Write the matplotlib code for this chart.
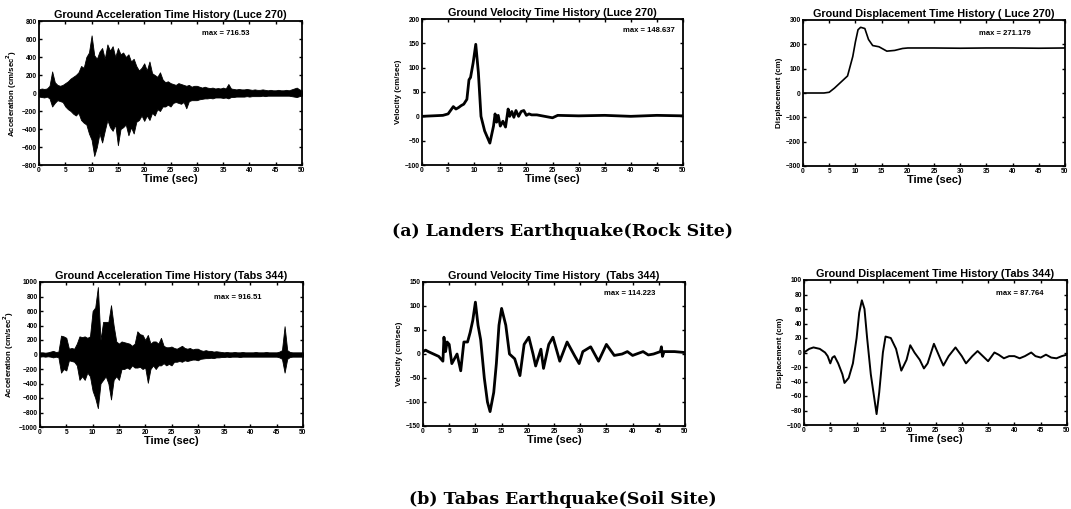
"""
Ground motion time histories: Landers (rock site) and Tabas (soil site).
"""

import numpy as np
import matplotlib
matplotlib.use('Agg')
import matplotlib.pyplot as plt

plt.rcParams.update({
    'font.family': 'Liberation Sans',
    'font.weight': 'bold',
    'axes.linewidth': 1.3,
    'xtick.direction': 'in',
    'ytick.direction': 'in',
    'xtick.top': True,
    'ytick.right': True,
    'xtick.major.size': 2.5,
    'ytick.major.size': 2.5,
    'xtick.major.width': 1.0,
    'ytick.major.width': 1.0,
    'xtick.labelsize': 4.8,
    'ytick.labelsize': 4.8,
    'xtick.major.pad': 1.5,
    'ytick.major.pad': 1.5,
})

# ── Data ────────────────────────────────────────────────────────────────────
# acceleration envelopes, sampled every 0.5 s from 0 to 50 s
acc_t = np.arange(0, 50.01, 0.5)

landers_acc_up = [40, 50, 45, 50, 80, 240, 120, 90, 80, 90,
                  110, 130, 160, 180, 200, 230, 300, 280, 400, 450,
                  640, 420, 380, 460, 500, 380, 540, 470, 520, 400,
                  500, 430, 450, 400, 430, 350, 380, 300, 250, 280,
                  330, 250, 350, 220, 200, 180, 230, 150, 120, 130,
                  110, 100, 90, 110, 100, 90, 80, 90, 70, 80,
                  80, 70, 60, 70, 60, 55, 60, 50, 55, 50,
                  60, 50, 100, 50, 45, 40, 45, 40, 40, 45,
                  40, 35, 40, 35, 35, 40, 35, 30, 35, 30,
                  30, 35, 30, 30, 35, 30, 40, 50, 60, 40, 30]
landers_acc_lo = [-40, -45, -50, -40, -60, -150, -110, -80, -90, -100,
                  -150, -180, -200, -230, -250, -220, -300, -330, -350, -450,
                  -520, -700, -600, -450, -550, -420, -300, -380, -420, -350,
                  -580, -400, -380, -350, -470, -380, -450, -320, -300, -250,
                  -310, -250, -300, -220, -250, -180, -200, -150, -150, -130,
                  -150, -110, -100, -110, -120, -100, -170, -90, -80, -80,
                  -80, -70, -65, -60, -60, -55, -60, -50, -50, -50,
                  -55, -50, -60, -45, -45, -40, -40, -40, -40, -35,
                  -40, -35, -35, -35, -35, -30, -35, -30, -30, -30,
                  -30, -30, -30, -30, -30, -30, -35, -40, -45, -35, -30]

tabas_acc_up = [30, 30, 25, 30, 40, 50, 35, 40, 260, 250,
                230, 80, 90, 80, 150, 250, 240, 250, 230, 250,
                600, 650, 930, 200, 450, 450, 450, 680, 400, 180,
                150, 180, 170, 160, 150, 120, 150, 320, 280, 270,
                200, 270, 150, 180, 180, 150, 230, 120, 100, 100,
                110, 90, 80, 100, 120, 90, 80, 90, 70, 80,
                80, 60, 50, 60, 50, 50, 40, 45, 40, 35,
                30, 35, 30, 30, 35, 30, 30, 35, 30, 30,
                30, 30, 35, 30, 30, 30, 35, 30, 30, 30,
                30, 40, 60, 390, 60, 35, 30, 30, 30, 30, 30]
tabas_acc_lo = [-30, -25, -30, -25, -30, -40, -30, -40, -250, -200,
                -220, -80, -90, -100, -150, -350, -300, -350, -250, -300,
                -500, -600, -740, -400, -350, -300, -400, -620, -350, -300,
                -350, -200, -200, -180, -200, -150, -180, -180, -170, -200,
                -180, -390, -200, -150, -200, -150, -150, -120, -150, -130,
                -150, -100, -100, -90, -100, -80, -90, -80, -70, -70,
                -80, -60, -55, -50, -50, -45, -50, -40, -40, -35,
                -35, -30, -35, -30, -30, -30, -35, -30, -30, -30,
                -30, -30, -30, -30, -30, -30, -30, -30, -30, -30,
                -30, -40, -60, -250, -60, -35, -30, -30, -30, -30, -30]

# velocity / displacement traces (time, value)
landers_vel_t = [0, 2, 4, 5, 6, 6.5, 7, 7.5, 8, 8.6, 9, 9.3, 9.8, 10.3, 10.8,
                 11.3, 12, 13, 13.7, 14, 14.3, 14.6, 15, 15.5, 16, 16.5, 16.8,
                 17.2, 17.6, 18, 18.5, 19, 19.5, 20, 20.5, 21, 22,
                 25, 26, 30, 35, 40, 45, 50]
landers_vel = [0, 1, 2, 5, 20, 15, 18, 22, 25, 35, 75, 80, 110, 148, 90,
               0, -30, -55, -20, 5, -12, 2, -20, -10, -22, 15, 0,
               10, -2, 12, 0, 10, 12, 2, 5, 3, 3,
               -3, 2, 1, 2, 0, 2, 1]

landers_dis_t = [0, 4, 5, 6, 7.5, 8.5, 9.5, 10, 10.5, 11, 11.8, 12.5, 13.3,
                 14.5, 16, 17.5, 19, 20, 25, 30, 35, 40, 45, 50]
landers_dis = [0, 0, 3, 20, 50, 70, 150, 210, 260, 270, 265, 220, 195,
               190, 172, 175, 183, 185, 185, 184, 185, 185, 184, 185]

tabas_vel_t = [0, 0.5, 1, 2, 3, 3.8, 4, 4.3, 4.6, 5, 5.5, 6.5, 7.2, 7.8, 8.5,
               9, 9.5, 10, 10.5, 11, 11.7, 12.3, 12.8, 13.5, 14, 14.5, 15,
               15.8, 16.5, 17.5, 18.5, 19.3, 20.2, 21, 21.5, 22.5, 23, 24,
               24.8, 26.1, 27.5, 29, 29.8, 30.5, 32, 33.5, 35, 36.5, 38, 39,
               40, 42, 43, 44, 45.3, 45.5, 45.7, 46, 48, 50]
tabas_vel = [5, 8, 5, 0, -5, -15, 35, 5, 25, 20, -20, 0, -35, 25, 25,
             45, 70, 108, 60, 30, -50, -100, -120, -80, -20, 60, 95,
             60, 0, -10, -45, 20, 35, 0, -25, 10, -30, 20,
             35, -15, 25, -5, -20, 5, 15, -15, 20, -3, 0, 5,
             -3, 5, -2, 0, 5, 15, -5, 5, 5, 3]

tabas_dis_t = [0, 1, 1.8, 3, 4, 4.5, 5, 5.4, 5.8, 6.5, 7.3, 7.7, 8.5, 9.3, 10,
               10.5, 11, 11.5, 12, 12.7, 13.3, 13.8, 14.3, 15, 15.5, 16.5,
               17.5, 18.5, 19.5, 20.2, 21, 22, 22.8, 23.5, 24.7, 26, 26.5,
               27.5, 28.8, 30, 30.8, 32, 33, 34, 35, 35.7, 36.2, 37, 38, 39,
               40, 41, 42, 43.2, 44, 45, 46, 47, 48, 49, 50]
tabas_dis = [0, 5, 7, 5, 0, -5, -15, -7, -5, -15, -30, -42, -35, -15, 20,
             55, 72, 60, 20, -30, -60, -85, -55, 0, 22, 20,
             5, -25, -10, 10, 0, -10, -22, -15, 12, -10, -18,
             -5, 7, -5, -15, -5, 2, -5, -12, -5, 0, -3, -8, -5,
             -5, -8, -5, 0, -5, -7, -3, -7, -8, -5, -3]

titles = ["Ground Acceleration Time History (Luce 270)",
          "Ground Velocity Time History (Luce 270)",
          "Ground Displacement Time History ( Luce 270)",
          "Ground Acceleration Time History (Tabs 344)",
          "Ground Velocity Time History  (Tabs 344)",
          "Ground Displacement Time History (Tabs 344)"]
max_labels = ["max = 716.53", "max = 148.637", "max = 271.179",
              "max = 916.51", "max = 114.223", "max = 87.764"]
max_pos = [(0.62, 0.91), (0.77, 0.92), (0.67, 0.91),
           (0.66, 0.89), (0.69, 0.92), (0.73, 0.91)]
ylabels = ["Acceleration (cm/sec$^2$)", "Velocity (cm/sec)", "Displacement (cm)"]
ylims = [(-800, 800), (-100, 200), (-300, 300),
         (-1000, 1000), (-150, 150), (-100, 100)]
ysteps = [200, 50, 100, 200, 50, 20]
captions = ["(a) Landers Earthquake(Rock Site)", "(b) Tabas Earthquake(Soil Site)"]

# ── Figure ──────────────────────────────────────────────────────────────────
fig = plt.figure(figsize=(10.71, 5.09), dpi=100)
W, H = 1071, 509
boxes = [(39, 21, 302, 165), (422, 19, 683, 165), (803, 20, 1065, 166),
         (40, 282, 303, 427), (423, 282, 685, 426), (804, 280, 1067, 425)]
axes = []
for (x0, y0, x1, y1) in boxes:
    axes.append(fig.add_axes([x0 / W, 1 - y1 / H, (x1 - x0) / W, (y1 - y0) / H]))

a = axes
a[0].fill_between(acc_t, landers_acc_lo, landers_acc_up, color='black', lw=0.6)
a[1].plot(landers_vel_t, landers_vel, color='black', lw=2.0)
a[2].plot(landers_dis_t, landers_dis, color='black', lw=1.2)
a[3].fill_between(acc_t, tabas_acc_lo, tabas_acc_up, color='black', lw=0.6)
a[4].plot(tabas_vel_t, tabas_vel, color='black', lw=2.0)
a[5].plot(tabas_dis_t, tabas_dis, color='black', lw=1.4)

for i, ax in enumerate(axes):
    lo, hi = ylims[i]
    ax.set_xlim(0, 50)
    ax.set_ylim(lo, hi)
    ax.set_xticks(np.arange(0, 51, 5))
    ax.set_yticks(np.arange(lo, hi + 1, ysteps[i]))
    ax.set_title(titles[i], fontsize=7.8, fontweight='bold', pad=2)
    ax.set_xlabel("Time (sec)", fontsize=8, fontweight='bold', labelpad=0)
    ax.set_ylabel(ylabels[i % 3], fontsize=5.7, fontweight='bold', labelpad=2)
    ax.text(*max_pos[i], max_labels[i], transform=ax.transAxes,
            fontsize=5.5, fontweight='bold', ha='left', va='center')

fig.text(562 / W, 1 - 232 / H, captions[0], ha='center', va='center',
         fontsize=12.5, family='DejaVu Serif')
fig.text(563 / W, 1 - 499 / H, captions[1], ha='center', va='center',
         fontsize=12.5, family='DejaVu Serif')

fig.savefig("out.png", dpi=100, facecolor='white')
